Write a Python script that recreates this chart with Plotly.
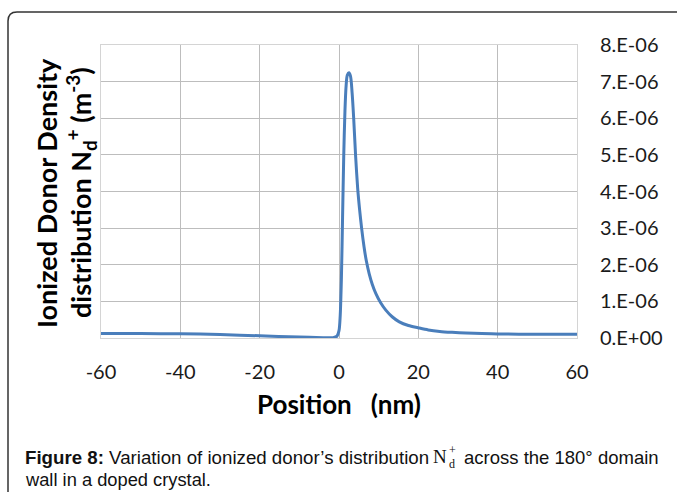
import plotly.graph_objects as go

# Ionized donor density profile across the domain wall
position_nm = [-60, -50, -40, -30, -20, -10, -4, -1.5, -0.5, 0.0, 0.3, 0.6, 0.9, 1.2,
               1.5, 1.8, 2.1, 2.5, 2.9, 3.3, 3.7, 4.2, 4.7, 5.2, 5.7, 6.3, 6.9, 7.6,
               8.4, 9.3, 10.5, 11.8, 13.4, 15.2, 17.5, 19.9, 22.5, 25.4, 28.5, 32,
               36, 40, 50, 60]
donor_density = [0.12e-6, 0.12e-6, 0.115e-6, 0.095e-6, 0.06e-6, 0.025e-6, 0.01e-6,
                 0.01e-6, 0.05e-6, 0.2e-6, 0.6e-6, 1.6e-6, 3.3e-6, 5.0e-6, 6.2e-6,
                 6.9e-6, 7.18e-6, 7.24e-6, 7.15e-6, 6.7e-6, 6.0e-6, 4.95e-6, 4.1e-6,
                 3.5e-6, 3.0e-6, 2.5e-6, 2.1e-6, 1.76e-6, 1.46e-6, 1.21e-6, 0.96e-6,
                 0.76e-6, 0.58e-6, 0.44e-6, 0.34e-6, 0.28e-6, 0.22e-6, 0.18e-6,
                 0.155e-6, 0.135e-6, 0.12e-6, 0.11e-6, 0.10e-6, 0.10e-6]

x_ticks = [-60, -40, -20, 0, 20, 40, 60]
y_ticks = [0, 1e-6, 2e-6, 3e-6, 4e-6, 5e-6, 6e-6, 7e-6, 8e-6]
y_tick_text = ["0.E+00", "1.E-06", "2.E-06", "3.E-06", "4.E-06",
               "5.E-06", "6.E-06", "7.E-06", "8.E-06"]

W, H = 678, 492
L, R, T, B = 101, 101, 45, 154
PW, PH = W - L - R, H - T - B


def px(x):
    return (x - L) / PW


def py(y):
    return (H - B - y) / PH


AXIS_FONT = "Lato, 'Open Sans', sans-serif"
CAP_FONT = "'Liberation Sans', Arial, sans-serif"
SERIF = "'Liberation Serif', 'Times New Roman', serif"

fig = go.Figure()
fig.add_trace(go.Scatter(
    x=position_nm, y=donor_density, mode="lines",
    line=dict(color="#4a7ebb", width=3, shape="spline", smoothing=0.8),
    hoverinfo="skip", showlegend=False,
))

fig.update_layout(
    width=W, height=H,
    margin=dict(l=L, r=R, t=T, b=B),
    paper_bgcolor="white", plot_bgcolor="white",
    xaxis=dict(
        range=[-60, 60], tickvals=x_ticks, ticktext=[str(v) for v in x_ticks],
        showgrid=True, gridcolor="#bdbdbd", gridwidth=1,
        zeroline=False, showline=True, linecolor="#d4d4d4", mirror=True,
        ticks="", ticklabelstandoff=16,
        tickfont=dict(family=AXIS_FONT, size=20, color="#1a1a1a"),
    ),
    yaxis=dict(
        range=[0, 8e-6], tickvals=y_ticks, ticktext=y_tick_text, side="right",
        showgrid=True, gridcolor="#bdbdbd", gridwidth=1,
        zeroline=False, showline=True, linecolor="#d4d4d4", mirror=True,
        ticks="", ticklabelstandoff=18,
        tickfont=dict(family=AXIS_FONT, size=20, color="#1a1a1a"),
    ),
)

annotations = [
    # vertical axis title (two lines)
    dict(x=px(46), y=py(193), text="<b>Ionized Donor Density</b>", textangle=-90,
         font=dict(family=AXIS_FONT, size=27, color="black")),
    dict(x=px(81), y=py(193),
         text="<b>distribution N<sub>d</sub><sup>+</sup> (m<sup>-3</sup>)</b>", textangle=-90,
         font=dict(family=AXIS_FONT, size=27, color="black")),
    # horizontal axis title
    dict(x=px(339), y=py(404), text="<b>Position\u00a0\u00a0\u00a0(nm)</b>",
         font=dict(family=AXIS_FONT, size=26, color="black")),
    # caption
    dict(x=px(23), y=py(457), xanchor="left",
         text="<b>Figure 8:</b> Variation of ionized donor’s distribution",
         font=dict(family=CAP_FONT, size=18.7, color="#111")),
    dict(x=px(431), y=py(456), xanchor="left", text="N",
         font=dict(family=SERIF, size=19, color="#111")),
    dict(x=px(447), y=py(450), xanchor="left", text="+",
         font=dict(family=SERIF, size=12, color="#111")),
    dict(x=px(447), y=py(464), xanchor="left", text="d",
         font=dict(family=SERIF, size=12, color="#111")),
    dict(x=px(462), y=py(457), xanchor="left", text="across the 180° domain",
         font=dict(family=CAP_FONT, size=18.5, color="#111")),
    dict(x=px(23), y=py(479), xanchor="left", text="wall in a doped crystal.",
         font=dict(family=CAP_FONT, size=18.3, color="#111")),
]
for a in annotations:
    a.update(xref="paper", yref="paper", showarrow=False)
    a.setdefault("xanchor", "center")
    a.setdefault("yanchor", "middle")
fig.update_layout(annotations=annotations)

# figure frame with rounded top-left corner
r = 9
frame = (f"M {px(W - 1)},{py(12)} L {px(8 + r)},{py(12)} "
         f"Q {px(8)},{py(12)} {px(8)},{py(12 + r)} L {px(8)},{py(H + 2)}")
fig.add_shape(type="path", path=frame, xref="paper", yref="paper",
              line=dict(color="#333333", width=1.5), layer="above")

fig.write_html("out.html")
